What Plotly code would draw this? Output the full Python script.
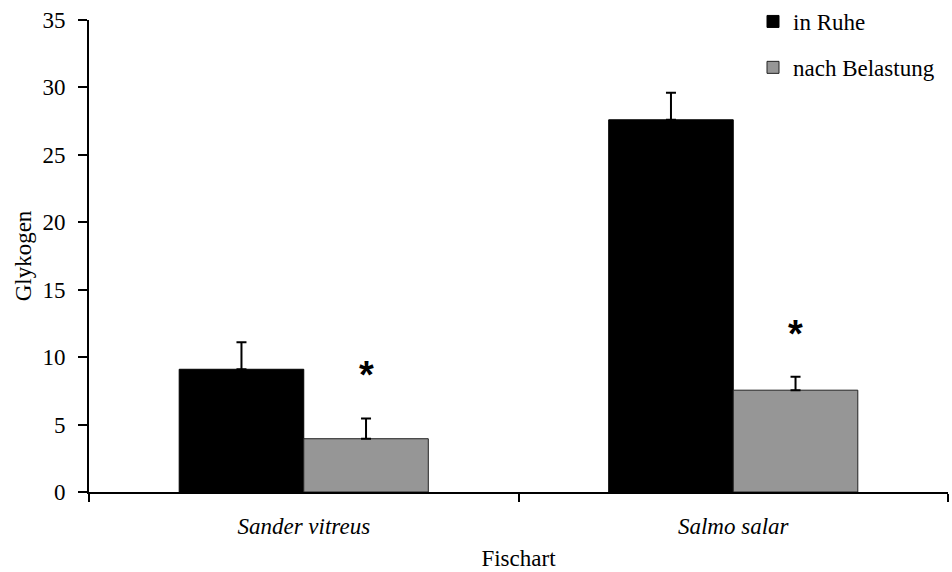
import plotly.graph_objects as go

categories = ["Sander vitreus", "Salmo salar"]
series_names = ["in Ruhe", "nach Belastung"]
rest_values = [9.1, 27.6]
rest_errors = [2.0, 2.0]
load_values = [3.95, 7.55]
load_errors = [1.5, 1.0]
significant = [True, True]
y_ticks = [0, 5, 10, 15, 20, 25, 30, 35]

FONT = "Liberation Serif, Times New Roman, serif"
FS = 23
BARGAP = 0.42

fig = go.Figure()
fig.add_trace(go.Bar(
    x=categories, y=rest_values, name=series_names[0],
    marker=dict(color="#000000", line=dict(color="#000000", width=1)),
    error_y=dict(type="data", array=rest_errors, arrayminus=[0, 0], symmetric=False,
                 color="#000000", thickness=2, width=5),
    legendgroup="a",
))
fig.add_trace(go.Bar(
    x=categories, y=load_values, name=series_names[1],
    marker=dict(color="#969696", line=dict(color="#222222", width=1)),
    error_y=dict(type="data", array=load_errors, arrayminus=[0, 0], symmetric=False,
                 color="#000000", thickness=2, width=5),
    legendgroup="b",
))

offset = (1 - BARGAP) / 4
for i, sig in enumerate(significant):
    if sig:
        fig.add_annotation(
            x=i + offset, y=load_values[i] + load_errors[i] + 3.5,
            xref="x", yref="y", text="<b>*</b>", showarrow=False,
            font=dict(family="Liberation Sans, Arial, sans-serif", size=38, color="#000"),
            yanchor="middle", xanchor="center", yshift=-4,
        )

fig.update_layout(
    width=952, height=572,
    margin=dict(l=89, r=4, t=20, b=80, autoexpand=False),
    paper_bgcolor="white", plot_bgcolor="white",
    barmode="group", bargap=BARGAP, bargroupgap=0,
    font=dict(family=FONT, size=FS, color="#000"),
    showlegend=True,
    legend=dict(x=0.773, y=1.002, xanchor="left", yanchor="top", yref="container",
                font=dict(family=FONT, size=FS, color="#000"),
                bgcolor="rgba(0,0,0,0)", tracegroupgap=13,
                traceorder="grouped"),
    xaxis=dict(
        type="category",
        showline=True, linecolor="#000", linewidth=2,
        ticks="outside", ticklen=8, tickwidth=2, tickcolor="#000",
        tickson="boundaries",
        tickfont=dict(family=FONT, size=FS, style="italic"),
        ticklabelstandoff=12,
        title=dict(text="Fischart", font=dict(family=FONT, size=FS), standoff=12),
        showgrid=False, zeroline=False,
    ),
    yaxis=dict(
        range=[0, 35], tickvals=y_ticks,
        showline=True, linecolor="#000", linewidth=2,
        ticks="outside", ticklen=9, tickwidth=2, tickcolor="#000",
        tickfont=dict(family=FONT, size=FS),
        ticklabelstandoff=8,
        title=dict(text="Glykogen", font=dict(family=FONT, size=FS), standoff=4),
        showgrid=False, zeroline=False,
    ),
)

fig.write_html("out.html")
